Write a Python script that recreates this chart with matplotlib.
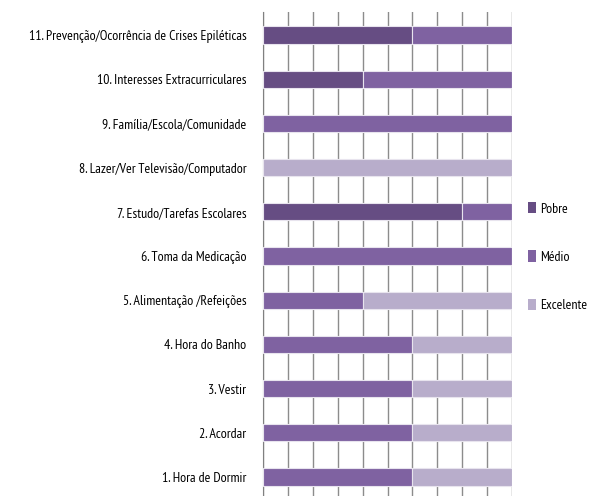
import matplotlib
matplotlib.use("Agg")
import matplotlib.pyplot as plt
import numpy as np
from matplotlib.patches import Patch

categories = [
    "1. Hora de Dormir",
    "2. Acordar",
    "3. Vestir",
    "4. Hora do Banho",
    "5. Alimentação /Refeições",
    "6. Toma da Medicação",
    "7. Estudo/Tarefas Escolares",
    "8. Lazer/Ver Televisão/Computador",
    "9. Família/Escola/Comunidade",
    "10. Interesses Extracurriculares",
    "11. Prevenção/Ocorrência de Crises Epiléticas",
]
pobre = [0, 0, 0, 0, 0, 0, 80, 0, 0, 40, 60]
medio = [60, 60, 60, 60, 40, 100, 20, 0, 100, 60, 40]
excelente = [40, 40, 40, 40, 60, 0, 0, 100, 0, 0, 0]

series = [("Pobre", pobre, "#664d83"), ("Médio", medio, "#7f62a1"),
          ("Excelente", excelente, "#b8adcb")]

plt.rcParams["font.family"] = ["PT Sans Narrow", "DejaVu Sans"]

fig = plt.figure(figsize=(5.91, 4.96), dpi=100)
ax = fig.add_axes([263 / 591, 0.0, (512 - 263) / 591, 1 - 12 / 496])

y = np.arange(len(categories))
left = np.zeros(len(categories))
for name, vals, color in series:
    vals = np.array(vals, dtype=float)
    ax.barh(y, vals, left=left, height=0.39, color=color, edgecolor="#e8e4ee",
            linewidth=0.8, label=name, zorder=3)
    left += vals

ax.set_xlim(0, 100)
ax.set_ylim(-0.43, 10.52)
ax.set_xticks(np.arange(0, 101, 10))
ax.xaxis.grid(True, color="#8c8c8c", linewidth=1.0, zorder=0)
ax.tick_params(axis="x", length=0, labelbottom=False)
ax.set_yticks(y)
ax.set_yticklabels(categories, fontsize=10)
ax.tick_params(axis="y", length=0, pad=12)
for s in ["top", "right", "bottom"]:
    ax.spines[s].set_visible(False)
ax.spines["left"].set_color("#808080")

handles = [Patch(facecolor=c, label=n) for n, _, c in series]
fig.legend(handles=handles, loc="center left", bbox_to_anchor=(528 / 591, 1 - 257 / 496),
           frameon=False, fontsize=10, handlelength=0.6, handleheight=0.9,
           handletextpad=0.25, labelspacing=2.5, borderaxespad=0, borderpad=0)

fig.savefig("out.png", dpi=100, facecolor="white")
